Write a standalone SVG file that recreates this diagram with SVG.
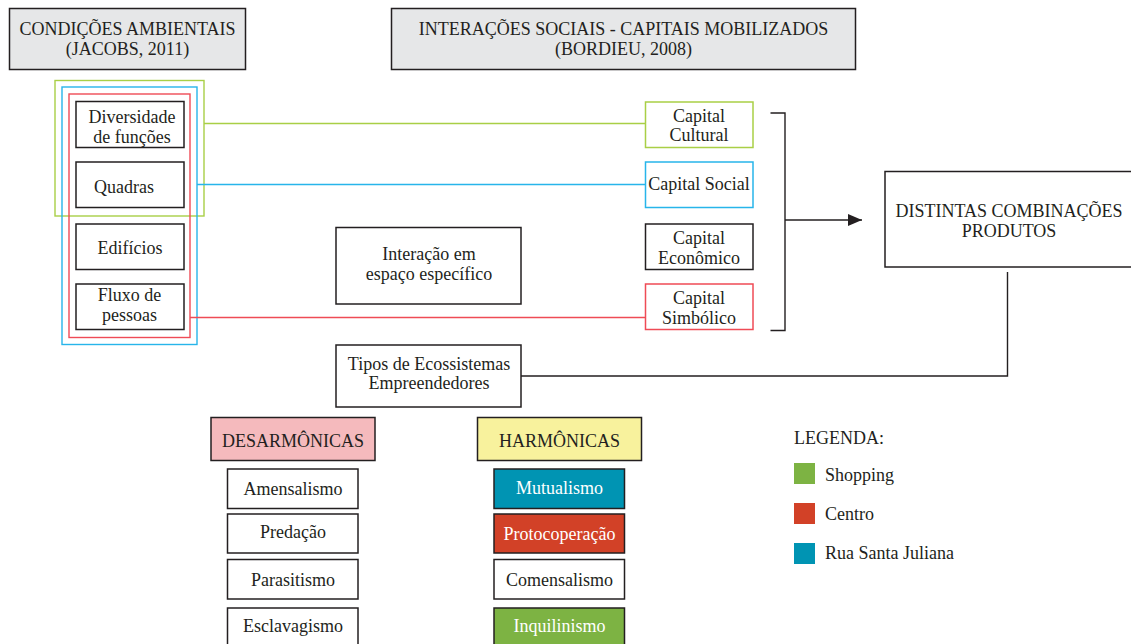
<svg xmlns="http://www.w3.org/2000/svg" width="1131" height="644" viewBox="0 0 1131 644" font-family="Liberation Serif, Times New Roman, serif">
<defs>
<style>
text{font-size:18px;fill:#231f20;text-anchor:middle}
.b{fill:#fff;stroke:#231f20;stroke-width:1.5}
.h{fill:#e6e7e8;stroke:#231f20;stroke-width:1.5}
.ln{fill:none;stroke-width:1.4}
.g{stroke:#a9cf46}
.bl{stroke:#27b5ea}
.r{stroke:#ef4b56}
.k{stroke:#231f20}
.s{text-anchor:start}
.wt{fill:#fff}
</style>
<marker id="ah" markerWidth="14" markerHeight="12" refX="14" refY="6" orient="auto" markerUnits="userSpaceOnUse">
<path d="M0,0 L14,6 L0,12 Z" fill="#231f20"/>
</marker>
</defs>
<rect width="1131" height="644" fill="#fff"/>

<g id="connectors">
<rect class="ln g" x="55" y="80.5" width="149" height="135.5"/>
<rect class="ln bl" x="62" y="87" width="135" height="257.5"/>
<rect class="ln r" x="69" y="94" width="121" height="243.5"/>
<line class="ln g" x1="204" y1="123.5" x2="645" y2="123.5"/>
<line class="ln bl" x1="197" y1="184.5" x2="645" y2="184.5"/>
<line class="ln r" x1="190" y1="317.5" x2="645" y2="317.5"/>
<polyline class="ln k" points="770.5,113 785,113 785,330.5 770.5,330.5"/>
<line class="ln k" x1="785" y1="220" x2="862" y2="220" marker-end="url(#ah)"/>
<polyline class="ln k" points="1007.5,272 1007.5,376 521,376"/>
</g>

<g id="header-condicoes">
<rect class="h" x="9.5" y="8.5" width="236" height="61"/>
<text x="127.5" y="35">CONDIÇÕES AMBIENTAIS</text>
<text x="127.5" y="55">(JACOBS, 2011)</text>
</g>
<g id="header-interacoes">
<rect class="h" x="391.5" y="8.5" width="464" height="61"/>
<text x="623.5" y="35">INTERAÇÕES SOCIAIS - CAPITAIS MOBILIZADOS</text>
<text x="623.5" y="55">(BORDIEU, 2008)</text>
</g>

<g id="diversidade">
<rect class="b" x="76" y="101.5" width="108" height="46"/>
<text x="132" y="122.5">Diversidade</text>
<text x="132" y="142.5">de funções</text>
</g>
<g id="quadras">
<rect class="b" x="76" y="162" width="108" height="45.5"/>
<text x="124" y="192.5">Quadras</text>
</g>
<g id="edificios">
<rect class="b" x="76" y="224" width="108" height="45.5"/>
<text x="130" y="253.5">Edifícios</text>
</g>
<g id="fluxo">
<rect class="b" x="76" y="284" width="108" height="45.5"/>
<text x="129.5" y="301">Fluxo de</text>
<text x="129.5" y="321">pessoas</text>
</g>

<g id="capital-cultural">
<rect class="b" x="645.5" y="102" width="107.5" height="45.5" style="stroke:#a9cf46"/>
<text x="699" y="121.5">Capital</text>
<text x="699" y="140.5">Cultural</text>
</g>
<g id="capital-social">
<rect class="b" x="645.5" y="162" width="107.5" height="45.5" style="stroke:#27b5ea"/>
<text x="699" y="189.5">Capital Social</text>
</g>
<g id="capital-economico">
<rect class="b" x="645.5" y="224" width="107.5" height="45.5"/>
<text x="699" y="243.5">Capital</text>
<text x="699" y="263.5">Econômico</text>
</g>
<g id="capital-simbolico">
<rect class="b" x="645.5" y="284" width="107.5" height="45.5" style="stroke:#ef4b56"/>
<text x="699" y="303.5">Capital</text>
<text x="699" y="323.5">Simbólico</text>
</g>

<g id="distintas">
<rect class="b" x="885" y="171.5" width="260" height="95.5"/>
<text x="1009" y="217">DISTINTAS COMBINAÇÕES</text>
<text x="1009" y="237">PRODUTOS</text>
</g>

<g id="interacao">
<rect class="b" x="336" y="227.5" width="185" height="76.5"/>
<text x="429" y="259.5">Interação em</text>
<text x="429" y="279.5">espaço específico</text>
</g>
<g id="tipos">
<rect class="b" x="336" y="345" width="185" height="62"/>
<text x="429" y="369.5">Tipos de Ecossistemas</text>
<text x="429" y="389">Empreendedores</text>
</g>

<g id="desarmonicas">
<rect class="b" x="211" y="417.5" width="164" height="43" style="fill:#f5babd"/>
<text x="293" y="447">DESARMÔNICAS</text>
</g>
<g id="harmonicas">
<rect class="b" x="477.5" y="417.5" width="164" height="43" style="fill:#f8f29d"/>
<text x="559.5" y="447">HARMÔNICAS</text>
</g>

<g id="amensalismo">
<rect class="b" x="227.5" y="469" width="130.5" height="39.5"/>
<text x="293" y="495">Amensalismo</text>
</g>
<g id="predacao">
<rect class="b" x="227.5" y="514" width="130.5" height="39"/>
<text x="293" y="538">Predação</text>
</g>
<g id="parasitismo">
<rect class="b" x="227.5" y="559.5" width="130.5" height="39.5"/>
<text x="293" y="585.5">Parasitismo</text>
</g>
<g id="esclavagismo">
<rect class="b" x="227.5" y="608" width="130.5" height="45"/>
<text x="293" y="632">Esclavagismo</text>
</g>

<g id="mutualismo">
<rect class="b" x="494" y="469" width="130.5" height="39.5" style="fill:#0094b3"/>
<text class="wt" x="559.5" y="493.5">Mutualismo</text>
</g>
<g id="protocoperacao">
<rect class="b" x="494" y="514" width="130.5" height="39" style="fill:#d24127"/>
<text class="wt" x="559.5" y="539.5">Protocoperação</text>
</g>
<g id="comensalismo">
<rect class="b" x="494" y="559.5" width="130.5" height="39.5"/>
<text x="559.5" y="585.5">Comensalismo</text>
</g>
<g id="inquilinismo">
<rect class="b" x="494" y="608" width="130.5" height="45" style="fill:#7db343"/>
<text class="wt" x="559.5" y="631.5">Inquilinismo</text>
</g>

<g id="legenda">
<text class="s" x="794" y="444">LEGENDA:</text>
<rect x="794" y="463" width="21" height="21" fill="#7db343"/>
<text class="s" x="825" y="481">Shopping</text>
<rect x="794" y="503" width="21" height="21" fill="#d24127"/>
<text class="s" x="825" y="520">Centro</text>
<rect x="794" y="543" width="21" height="21" fill="#0094b3"/>
<text class="s" x="825" y="559">Rua Santa Juliana</text>
</g>
</svg>
